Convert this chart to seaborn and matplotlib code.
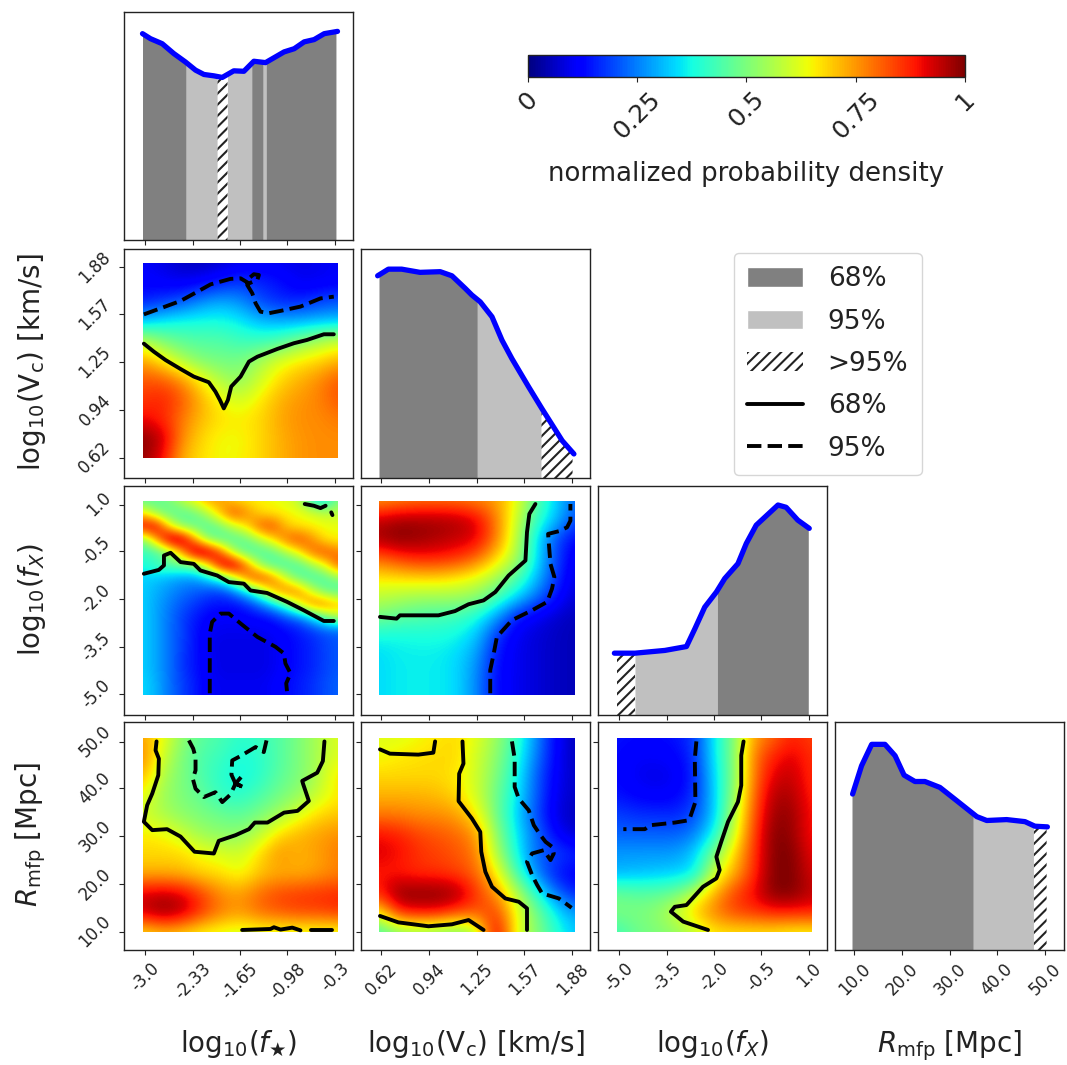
import numpy as np
import pandas as pd
import seaborn as sns
import matplotlib
matplotlib.use("Agg")
import matplotlib.pyplot as plt
from matplotlib.patches import Patch, Rectangle
from matplotlib.lines import Line2D
from matplotlib.cm import ScalarMappable
from matplotlib.colors import Normalize

# ---------- tick labels ----------
fstar_ticks = ["-3.0", "-2.33", "-1.65", "-0.98", "-0.3"]
vc_ticks = ["0.62", "0.94", "1.25", "1.57", "1.88"]
fx_ticks = ["-5.0", "-3.5", "-2.0", "-0.5", "1.0"]
rmfp_ticks = ["10.0", "20.0", "30.0", "40.0", "50.0"]
xtick_pct = [1.25, 25.7, 50.1, 74.3, 98.9]
ytick_pct = [0.4, 24.6, 49.3, 74.0, 98.0]

# ---------- 2D normalised probability density (top row first) ----------
grid_fstar_vc = [
    [.11, .09, .06, .05, .07, .09, .10, .10, .09, .10, .11],
    [.12, .11, .10, .12, .15, .18, .16, .14, .10, .10, .11],
    [.15, .18, .21, .27, .30, .27, .20, .16, .16, .19, .21],
    [.32, .36, .38, .38, .38, .36, .31, .30, .30, .31, .32],
    [.58, .50, .46, .45, .45, .42, .42, .44, .50, .56, .60],
    [.74, .66, .56, .50, .49, .49, .55, .62, .66, .68, .72],
    [.82, .82, .76, .65, .56, .52, .60, .68, .72, .76, .82],
    [.85, .88, .82, .72, .64, .60, .66, .72, .75, .77, .82],
    [.90, .87, .78, .71, .67, .66, .68, .73, .76, .76, .78],
    [1.0, .95, .76, .68, .64, .64, .68, .72, .75, .76, .76],
    [.98, .90, .72, .67, .64, .65, .68, .72, .75, .76, .76],
]
grid_fstar_fx = [
    [.46, .46, .50, .58, .66, .73, .74, .68, .66, .65, .64, .62, .58, .38, .34, .50],
    [.66, .52, .46, .45, .48, .58, .72, .84, .76, .68, .66, .65, .64, .62, .58, .58],
    [.94, .95, .66, .50, .46, .44, .50, .60, .68, .82, .84, .70, .66, .65, .64, .64],
    [.50, .74, 1.0, 1.0, .74, .50, .44, .44, .48, .58, .68, .80, .84, .76, .66, .64],
    [.42, .42, .52, .74, 1.0, 1.0, .82, .55, .44, .43, .46, .56, .66, .80, .84, .78],
    [.38, .43, .46, .47, .50, .66, .95, 1.0, .78, .54, .44, .42, .44, .54, .64, .82],
    [.33, .32, .30, .28, .28, .34, .42, .58, .80, .88, .78, .60, .46, .42, .44, .52],
    [.33, .30, .27, .24, .22, .20, .19, .25, .36, .50, .72, .80, .78, .60, .47, .43],
    [.33, .29, .25, .21, .18, .15, .14, .14, .17, .24, .33, .46, .64, .80, .80, .72],
    [.33, .29, .24, .19, .15, .12, .11, .11, .12, .13, .15, .20, .24, .34, .48, .58],
    [.33, .29, .24, .19, .14, .11, .10, .10, .10, .10, .11, .13, .15, .18, .21, .22],
    [.33, .29, .24, .19, .14, .10, .09, .09, .09, .09, .10, .12, .14, .16, .19, .21],
    [.33, .29, .24, .18, .14, .11, .09, .09, .09, .09, .10, .12, .14, .16, .19, .21],
    [.33, .29, .24, .18, .14, .11, .09, .09, .09, .09, .10, .12, .14, .16, .19, .21],
    [.34, .30, .24, .19, .15, .11, .10, .10, .10, .10, .11, .13, .15, .17, .20, .22],
    [.34, .30, .24, .19, .15, .11, .10, .10, .10, .10, .11, .13, .15, .17, .20, .22],
]
grid_vc_fx = [
    [.74, .76, .78, .78, .78, .76, .74, .64, .46, .34, .22],
    [.94, .97, .97, .97, .96, .92, .78, .60, .42, .32, .20],
    [.97, 1.0, .98, .96, .94, .92, .78, .58, .36, .20, .12],
    [.80, .85, .88, .88, .86, .80, .68, .56, .36, .20, .09],
    [.66, .67, .68, .68, .66, .62, .55, .45, .32, .18, .08],
    [.58, .56, .54, .54, .54, .52, .44, .34, .24, .14, .07],
    [.49, .46, .44, .43, .42, .38, .28, .14, .10, .07, .05],
    [.37, .37, .38, .38, .37, .32, .17, .10, .08, .06, .05],
    [.34, .36, .36, .36, .34, .28, .14, .10, .08, .06, .05],
    [.34, .36, .36, .36, .34, .26, .13, .10, .08, .06, .05],
    [.34, .36, .36, .36, .34, .26, .13, .10, .08, .06, .05],
]
grid_fstar_rmfp = [
    [.74, .64, .52, .46, .44, .40, .42, .45, .50, .56, .62],
    [.78, .60, .50, .44, .42, .38, .40, .45, .50, .56, .62],
    [.72, .56, .50, .44, .40, .37, .40, .46, .50, .56, .68],
    [.64, .54, .50, .47, .41, .40, .44, .49, .53, .60, .66],
    [.60, .56, .52, .50, .48, .46, .50, .55, .62, .68, .70],
    [.66, .65, .60, .54, .52, .52, .58, .68, .72, .74, .76],
    [.68, .68, .68, .64, .62, .60, .68, .76, .72, .74, .78],
    [.72, .72, .71, .68, .67, .63, .70, .72, .72, .74, .77],
    [.92, .94, .92, .84, .76, .74, .80, .84, .85, .86, .87],
    [.94, 1.0, .96, .86, .78, .75, .80, .82, .84, .84, .86],
    [.66, .70, .68, .64, .62, .60, .62, .62, .62, .62, .62],
]
grid_vc_rmfp = [
    [.62, .62, .64, .66, .68, .62, .54, .42, .27, .12, .05],
    [.64, .66, .67, .68, .68, .60, .52, .40, .25, .12, .05],
    [.68, .68, .68, .68, .66, .60, .50, .38, .22, .11, .06],
    [.72, .72, .72, .71, .68, .60, .48, .36, .22, .10, .06],
    [.78, .78, .76, .76, .74, .66, .48, .34, .20, .09, .05],
    [.90, .88, .84, .82, .80, .75, .52, .36, .24, .12, .07],
    [.92, .90, .86, .84, .82, .78, .56, .38, .22, .20, .16],
    [.88, .88, .86, .86, .84, .80, .66, .44, .26, .14, .11],
    [.88, 1.0, 1.0, 1.0, .98, .85, .75, .58, .40, .24, .15],
    [.64, .88, .90, .90, .84, .82, .85, .64, .50, .36, .28],
    [.42, .50, .52, .50, .48, .56, .96, .62, .52, .40, .32],
]
grid_fx_rmfp = [
    [.14, .13, .13, .14, .18, .36, .50, .74, .80, .88, .84],
    [.13, .11, .11, .12, .17, .36, .50, .78, .88, .92, .86],
    [.13, .10, .09, .10, .16, .34, .50, .78, .92, .94, .86],
    [.14, .12, .11, .12, .17, .33, .52, .80, .96, .96, .87],
    [.19, .17, .17, .16, .20, .32, .56, .82, .98, .98, .88],
    [.22, .22, .22, .22, .25, .38, .60, .84, 1.0, .98, .88],
    [.28, .28, .28, .28, .33, .50, .68, .85, 1.0, 1.0, .90],
    [.30, .31, .32, .33, .35, .60, .72, .86, 1.0, 1.0, .92],
    [.48, .46, .46, .48, .58, .72, .84, .90, 1.0, 1.0, .94],
    [.50, .50, .52, .60, .70, .78, .84, .86, .88, .88, .88],
    [.42, .48, .50, .52, .58, .66, .66, .66, .66, .64, .64],
]

# ---------- credible contours: percent of each parameter's range ----------
c_fstar_vc = [
    ("-", [.7, 5.8, 11.8, 19.5, 26.3, 34, 37.4, 39.7, 41.7, 43.8, 45.5, 50.3, 54.6, 58.9, 69.2, 77.6, 84.4, 93, 98.1],
     [58.8, 54.7, 50.4, 45.8, 41.9, 39, 34.2, 29.9, 25.6, 29.9, 36.8, 41.9, 49.6, 52.1, 56.1, 59, 60.7, 63.6, 63.6]),
    ("--", [.7, 9.2, 19.5, 29.7, 34.9, 45.1, 50.3, 54.6, 58.9, 59.7, 57.1, 54.6, 53.7, 56.3, 58, 60.5, 64.8, 70.8, 81, 91.3, 98.1],
     [73.8, 76.9, 80.7, 86.3, 89.2, 92, 92.3, 89.7, 91.5, 94, 94.4, 92.3, 88.9, 84.6, 79.5, 75.2, 74.4, 75.6, 77.8, 82, 82.9]),
]
c_fstar_fx = [
    ("-", [.7, 8.4, 11, 11, 14.4, 19.5, 26.3, 29.7, 38.3, 44.3, 52, 55.4, 63.9, 74.2, 82.7, 93, 98.1],
     [62.4, 64.4, 66.7, 71.8, 73.2, 68.4, 67.5, 64.1, 61.5, 58.1, 57.3, 53.8, 52.5, 47.9, 43.6, 38.1, 38.1]),
    ("-", [83.2, 87.9, 91.3, 93.9], [98.3, 97.4, 96.2, 97.4]),
    ("-", [96.8, 97.4], [94, 92.6]),
    ("--", [34.5, 34.5, 35.7, 40, 44.3, 50.3, 58.9, 68.2, 72.5, 73.3, 75.9, 73.7, 74.2],
     [.9, 31.6, 37.6, 41.9, 41.9, 36.8, 29.9, 24.8, 21.4, 16.2, 11.1, 6, .9]),
]
c_vc_fx = [
    ("-", [.5, 9, 10.7, 30.4, 38.9, 45.8, 53.5, 59.5, 66.3, 74.9, 75.7, 76.9, 80],
     [40.2, 39.3, 41, 41, 43.2, 46.7, 48.7, 53, 61.5, 69.2, 83.8, 93.2, 98.3]),
    ("--", [56.9, 56.9, 58.7, 60.3, 68, 78.3, 86, 88.5, 89.7, 87.7, 86.5, 92, 96.2, 97.9, 97.9],
     [.9, 12.8, 21.4, 29.9, 38.5, 43.6, 47.9, 54.7, 60.7, 67.5, 82.9, 84.3, 86.3, 89.7, 98.3]),
]
c_fstar_rmfp = [
    ("-", [7.2, 6.7, 8.4, 8.1, 5, 2.4, .7, 5, 12.6, 19.5, 26.7, 36.6, 39.1, 47.7, 54.6, 57.6, 64.1, 72.6, 79.5, 85.3, 82.4, 81.9, 89.6, 92.5, 93.3],
     [98.1, 93.5, 89.2, 80.7, 71.3, 65.3, 56.8, 52.5, 53, 49.2, 41.4, 40.5, 47, 49.9, 53, 56.4, 56.4, 61.5, 62.4, 67.5, 76.1, 77.8, 82, 88, 98.1]),
    ("-", [51.1, 65.6, 67.4, 70.8, 76.8, 81], [1.2, 1.7, 2.6, 1.4, 2.4, 1]),
    ("-", [86.2, 97.3], [1.2, 1.2]),
    ("--", [23.8, 26, 27.2, 27.2, 25.8, 27.2, 31.5, 37.4, 40.9, 45.1, 47.7, 52.3, 47.7, 50.6, 47.7, 45.6, 46, 50.3, 58, 62.2, 63.6],
     [98.6, 94.4, 90, 83.2, 78.9, 73.8, 69.5, 72, 66.9, 70.8, 76.4, 74.4, 76.4, 79.8, 76.4, 81, 88.3, 90.6, 95.2, 92.6, 98.6]),
]
c_vc_rmfp = [
    ("-", [.5, 5.6, 20.1, 27.8, 28.7], [94, 91.8, 91.3, 92.3, 98.1]),
    ("-", [42.7, 43.2, 41, 40.7, 47.5, 51.8, 52.3, 54.4, 57.8, 64.6, 71.5, 75.7, 75.7],
     [98.1, 86.7, 81.5, 67.4, 58.5, 51.6, 41.4, 31.1, 23.4, 17.4, 15.7, 12.3, 1.2]),
    ("-", [.5, 9.9, 25.3, 37.3, 45.8, 53.5], [8.4, 5.1, 3.1, 4.1, 6.3, 1.2]),
    ("--", [68, 69.4, 69.4, 71.5, 76.6, 79.2, 82.6, 85.2, 88.6, 89.4, 87.7, 84.3, 78.3, 75.7, 78.3, 80.9, 83.4, 92, 98.5],
     [98.1, 89.2, 74.7, 68.7, 62.7, 55, 49.9, 46.5, 43.9, 40.5, 37.1, 42.2, 40.5, 36.2, 29.4, 24.3, 20, 17.4, 12.6]),
]
c_fx_rmfp = [
    ("-", [65.3, 64.1, 64.1, 62.4, 57.3, 53.8, 51.3, 53, 51.3, 44.4, 35.9, 29.9, 27.9, 34.2, 47],
     [98.1, 90.9, 75.5, 67, 56.8, 46.5, 38.8, 32, 27.7, 23.4, 14, 13.1, 10.6, 5.5, 1.2]),
    ("--", [41, 40.2, 40.5, 37.3, 30, 17.1, 14.5, 3.4],
     [98.1, 89.2, 67, 57.6, 56.4, 55, 53, 53]),
]

# ---------- 1D marginals ----------
m_fstar_x = [0, 4.1, 10.1, 16, 22, 27.2, 31.5, 36.6, 40.9, 46.8, 52, 57.1, 63.1, 72.6, 77.8, 82.9, 88, 93.2, 100]
m_fstar_y = [90.5, 88.3, 86.1, 81.8, 78.1, 74.5, 72.6, 72, 71.3, 74.2, 74, 78.4, 77.8, 82.5, 83.9, 86.9, 87.9, 90.5, 91.5]
m_fstar_bands = [("d", 0, 22.4), ("l", 22.4, 38.5), ("h", 38.5, 43.6), ("l", 43.6, 56),
                 ("d", 56, 61.9), ("l", 61.9, 63.4), ("d", 63.4, 99.2)]
m_vc_x = [-.7, 4.8, 11.6, 21, 31.3, 37.3, 44.1, 47.5, 51.8, 57.8, 62.9, 68, 76.6, 83.4, 93.7, 99.7]
m_vc_y = [88.3, 91.2, 91.2, 89.8, 90.1, 88.3, 82.8, 79.9, 76.9, 70.4, 60.2, 52.1, 39.7, 30.2, 16.3, 10.5]
m_vc_bands = [("d", 0, 50.3), ("l", 50.3, 83.1), ("h", 83.1, 99)]
m_fx_x = [-1.2, 9.4, 24.8, 35.9, 40.2, 45.3, 51.3, 55.6, 62.4, 66.7, 71.8, 83, 87.2, 93.2, 99.1]
m_fx_y = [27, 27, 28.2, 29.9, 37.6, 47.1, 53.7, 59.6, 66.1, 74.9, 82.9, 91.7, 90.7, 85.1, 81.5]
m_fx_bands = [("h", 0, 9.4), ("l", 9.4, 51.8), ("d", 51.8, 98.6)]
m_rmfp_x = [.3, 4.9, 10.1, 16.9, 22.1, 26.7, 32.3, 37.4, 45.1, 53.7, 64, 69.1, 79.3, 88.7, 93.8, 100.2]
m_rmfp_y = [68.4, 80.8, 90.2, 90.2, 85.2, 76.7, 73.9, 73.9, 71.3, 65.5, 58.5, 56.8, 57.2, 56.3, 54.3, 54]
m_rmfp_bands = [("d", 0, 62.2), ("l", 62.2, 93.3), ("h", 93.3, 99.8)]

cbar_ticks = [0, 0.25, 0.5, 0.75, 1]
cbar_labels = ["0", "0.25", "0.5", "0.75", "1"]

# ---------- style ----------
sns.set_style("ticks", {"axes.edgecolor": "#222222", "text.color": "#222222", "xtick.color": "#222222",
                        "ytick.color": "#222222", "axes.labelcolor": "#222222"})
plt.rcParams["font.family"] = ["DejaVu Sans"]
plt.rcParams["hatch.linewidth"] = 1.5
plt.rcParams["mathtext.default"] = "regular"
cmap = matplotlib.colormaps["jet"]

W, H = 1067, 1065
fig = plt.figure(figsize=(W / 100, H / 100), dpi=100, facecolor="white")

cols = [(124, 353), (361, 590), (598, 827), (835, 1064)]
rows = [(12, 240), (249, 478), (486, 715), (722, 950)]
img_x = [(142.5, 337.5), (379, 574.5), (616.7, 811), (852, 1047)]
img_y = [None, (263.3, 458.3), (500.7, 695), (737.7, 932.3)]

xlabels = [r"log$_{10}$($\mathit{f}_{\bigstar}$)", r"log$_{10}$(V$_{c}$) [km/s]",
           r"log$_{10}$($\mathit{f_X}$)", r"$\mathit{R}_{mfp}$ [Mpc]"]
ylabels = [None, r"log$_{10}$(V$_{c}$) [km/s]", r"log$_{10}$($\mathit{f_X}$)", r"$\mathit{R}_{mfp}$ [Mpc]"]
xticks_all = [fstar_ticks, vc_ticks, fx_ticks, rmfp_ticks]
yticks_all = [None, vc_ticks, fx_ticks, rmfp_ticks]
TICK_FS, LABEL_FS = 12, 20


def make_ax(r, c):
    l, rr = cols[c]
    t, b = rows[r]
    ax = fig.add_axes([l / W, 1 - b / H, (rr - l) / W, (b - t) / H])
    for s in ax.spines.values():
        s.set_visible(True)
        s.set_linewidth(1.0)
    return ax


def set_x(ax, c, r):
    l, rr = cols[c]
    a, b = img_x[c]
    k = (b - a) / 100
    ax.set_xlim((l - a) / k, (rr - a) / k)
    ax.set_xticks(xtick_pct)
    if r == 3:
        ax.set_xticklabels(xticks_all[c], rotation=45, fontsize=TICK_FS)
        ax.set_xlabel(xlabels[c], fontsize=LABEL_FS)
        ax.xaxis.set_label_coords(0.5, -78 / 228)
    else:
        ax.set_xticklabels([])
        ax.set_xlabel("")


def draw_2d(r, c, grid, contours):
    ax = make_ax(r, c)
    z = np.array(grid)
    ny, nx = z.shape
    hx, hy = 50 / (nx - 1), 50 / (ny - 1)
    im = ax.imshow(z, cmap=cmap, vmin=0, vmax=1, aspect="auto", interpolation="bicubic",
                   extent=[-hx, 100 + hx, -hy, 100 + hy], origin="upper")
    im.set_clip_path(Rectangle((0, 0), 100, 100, transform=ax.transData))
    for ls, xs, ys in contours:
        d = pd.DataFrame({"x": xs, "y": ys})
        sns.lineplot(data=d, x="x", y="y", sort=False, estimator=None, color="black",
                     linewidth=2.8, linestyle=ls, ax=ax, legend=False)
    set_x(ax, c, r)
    t, b = rows[r]
    a, e = img_y[r]
    k = (e - a) / 100
    ax.set_ylim((e - b) / k, 100 + (a - t) / k)
    ax.set_yticks(ytick_pct)
    if c == 0:
        ax.set_yticklabels(yticks_all[r], rotation=45, fontsize=TICK_FS, va="center")
        ax.set_ylabel(ylabels[r], fontsize=LABEL_FS)
        ax.yaxis.set_label_coords(-76 / 229, 0.505)
    else:
        ax.set_yticklabels([])
        ax.set_ylabel("")


def draw_1d(i, xs, ys, bands):
    ax = make_ax(i, i)
    for kind, a, b in bands:
        x = np.linspace(a, b, 40)
        y = np.interp(x, xs, ys)
        if kind == "d":
            ax.fill_between(x, 0, y, color="gray", lw=0)
        elif kind == "l":
            ax.fill_between(x, 0, y, color="silver", lw=0)
        else:
            ax.fill_between(x, 0, y, facecolor="white", edgecolor="#222222", hatch="///", lw=0)
    d = pd.DataFrame({"x": xs, "y": ys})
    sns.lineplot(data=d, x="x", y="y", sort=False, estimator=None, color="blue",
                 linewidth=3.8, ax=ax, legend=False)
    ax.set_ylim(0, 100)
    ax.set_yticks([])
    ax.set_ylabel("")
    set_x(ax, i, i)


draw_1d(0, m_fstar_x, m_fstar_y, m_fstar_bands)
draw_1d(1, m_vc_x, m_vc_y, m_vc_bands)
draw_1d(2, m_fx_x, m_fx_y, m_fx_bands)
draw_1d(3, m_rmfp_x, m_rmfp_y, m_rmfp_bands)
draw_2d(1, 0, grid_fstar_vc, c_fstar_vc)
draw_2d(2, 0, grid_fstar_fx, c_fstar_fx)
draw_2d(2, 1, grid_vc_fx, c_vc_fx)
draw_2d(3, 0, grid_fstar_rmfp, c_fstar_rmfp)
draw_2d(3, 1, grid_vc_rmfp, c_vc_rmfp)
draw_2d(3, 2, grid_fx_rmfp, c_fx_rmfp)

# colour bar
cax = fig.add_axes([527.7 / W, 1 - 77.3 / H, (965 - 527.7) / W, 22.3 / H])
cb = fig.colorbar(ScalarMappable(Normalize(0, 1), cmap), cax=cax, orientation="horizontal", ticks=cbar_ticks)
cb.ax.set_xticklabels(cbar_labels, rotation=45, fontsize=18)
cb.set_label("normalized probability density", fontsize=18.7, labelpad=13)
cb.outline.set_linewidth(1.0)

# legend
handles = [Patch(facecolor="gray", label="68%"), Patch(facecolor="silver", label="95%"),
           Patch(facecolor="white", edgecolor="#222222", hatch="///", lw=0, label=">95%"),
           Line2D([], [], color="black", lw=2.8, label="68%"),
           Line2D([], [], color="black", lw=2.8, ls="--", label="95%")]
fig.legend(handles=handles, loc="upper left", bbox_to_anchor=(734 / W, 1 - 253 / H), fontsize=19,
           borderaxespad=0, handlelength=2.1, handleheight=0.76, handletextpad=0.95,
           labelspacing=0.62, frameon=True, borderpad=0.5)

fig.savefig("out.png", dpi=100, facecolor="white")
